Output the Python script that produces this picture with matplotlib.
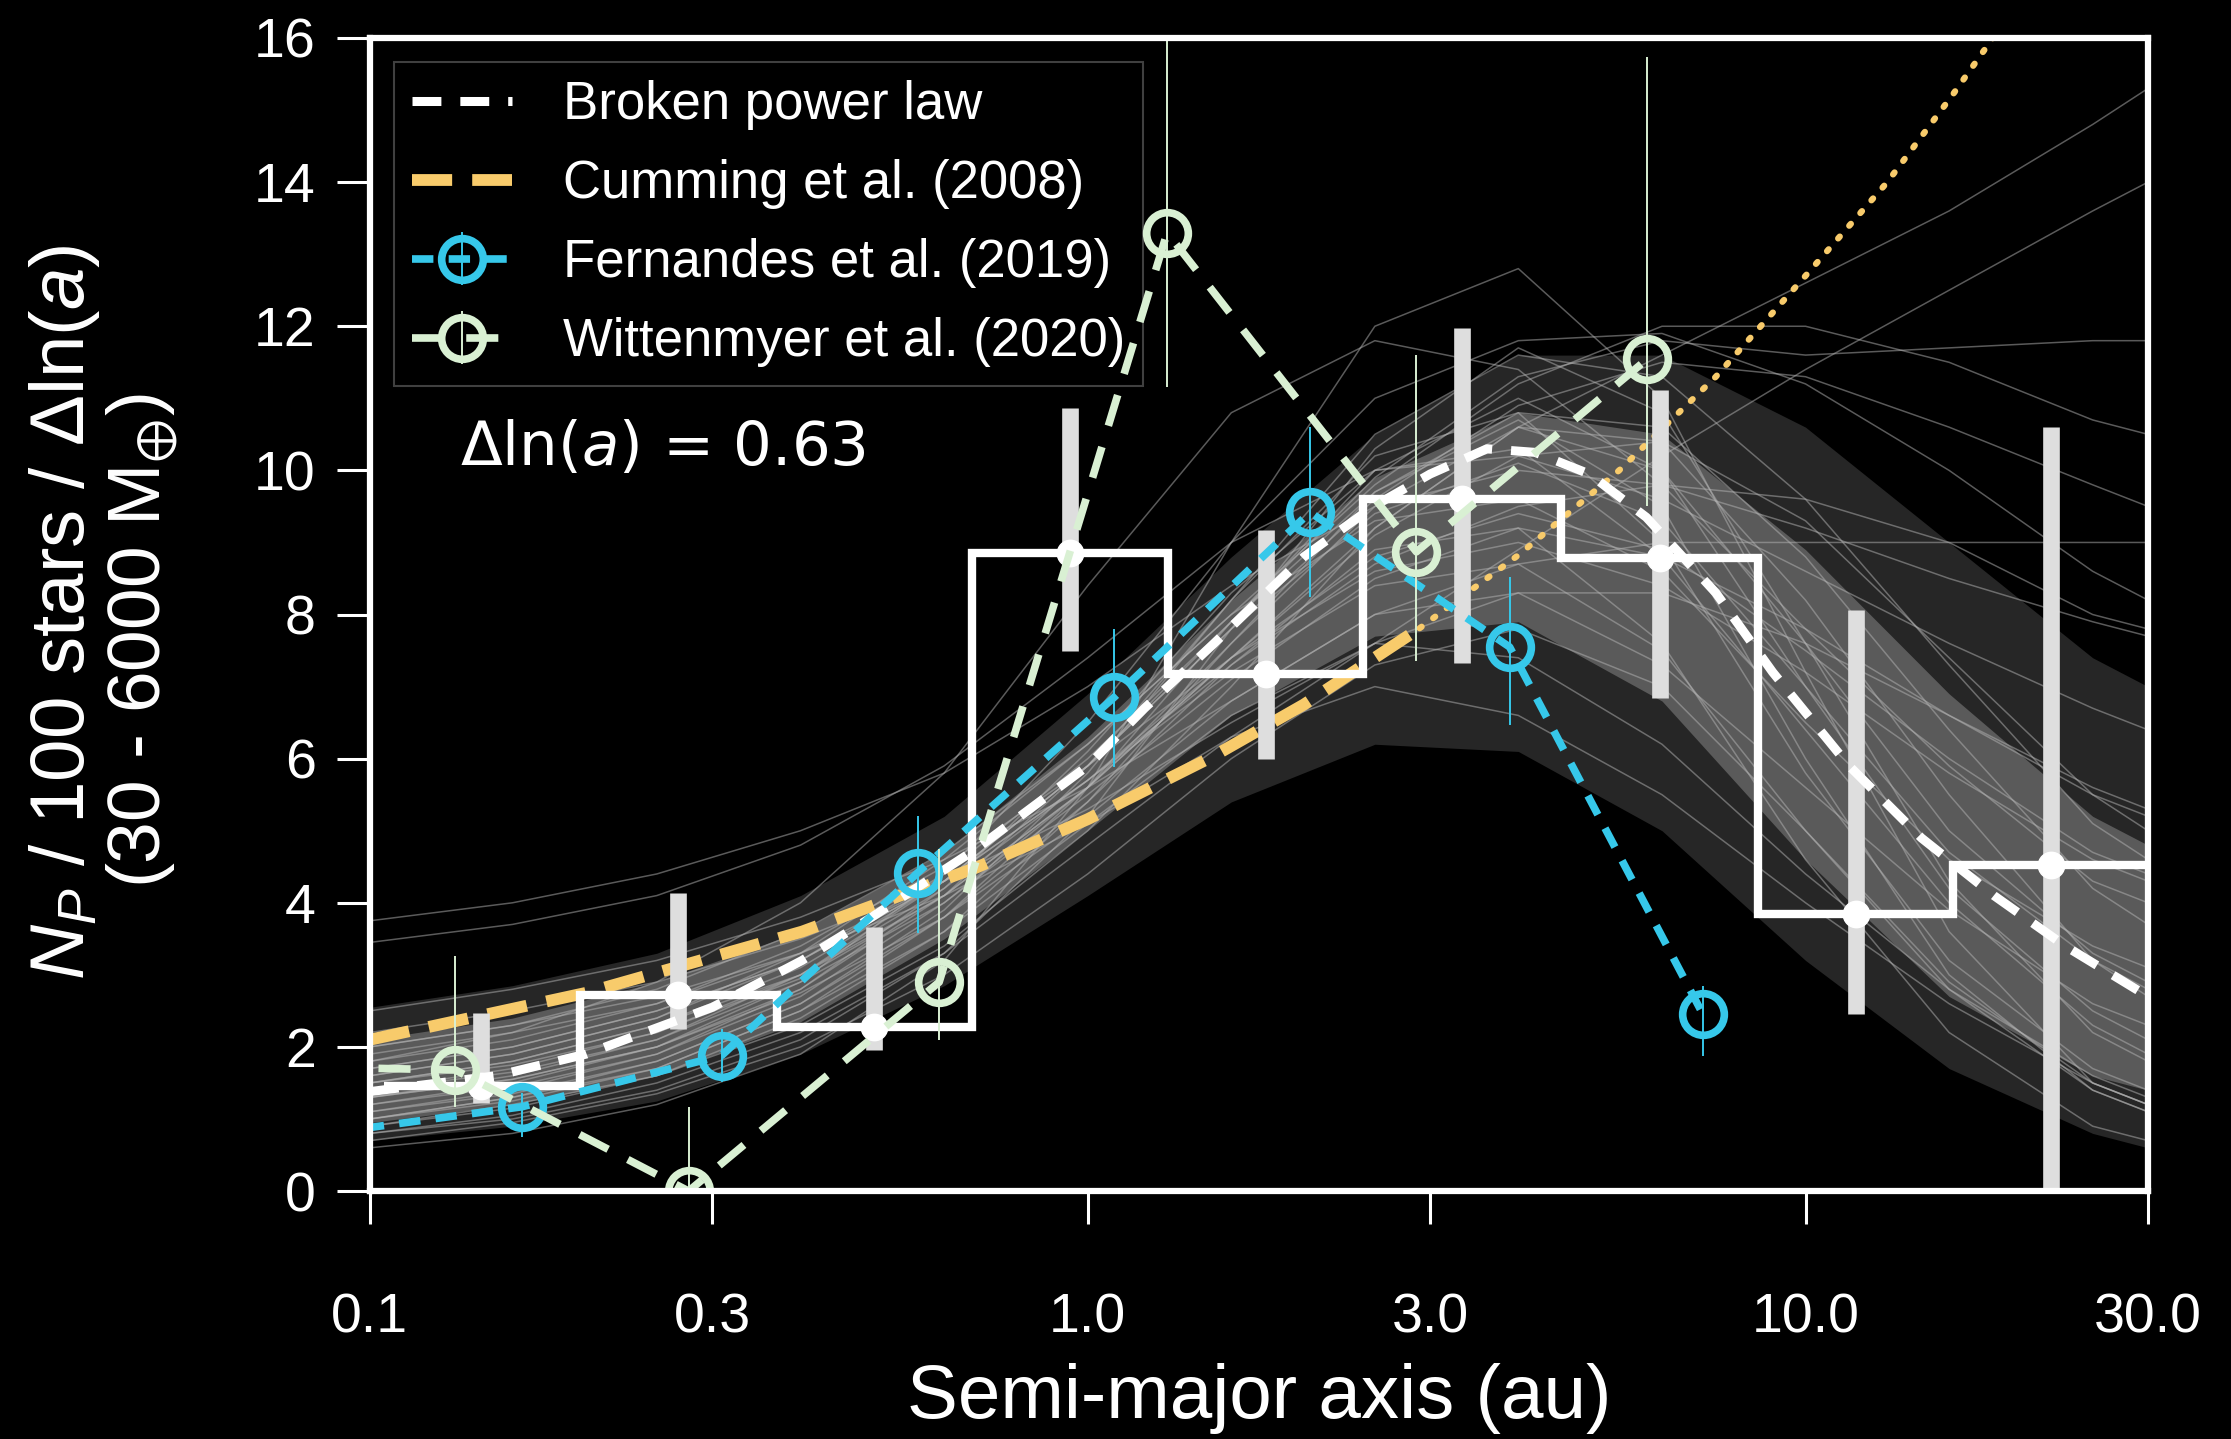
import matplotlib
matplotlib.use("Agg")
import matplotlib.pyplot as plt
from matplotlib.ticker import NullLocator

plt.rcParams["font.family"] = ["Liberation Sans", "DejaVu Sans"]
plt.rcParams["mathtext.fontset"] = "custom"
plt.rcParams["mathtext.rm"] = "Liberation Sans"
plt.rcParams["mathtext.it"] = "Liberation Sans:italic"
plt.rcParams["mathtext.fallback"] = "stixsans"

# histogram (occurrence per bin)
hist_edges = [0.1046, 0.1965, 0.3687, 0.6892, 1.293, 2.417, 4.558, 8.595, 16.06, 30.0]
hist_centers = [0.143, 0.269, 0.504, 0.944, 1.77, 3.32, 6.26, 11.75, 22.0]
hist_n = [1.46, 2.72, 2.28, 8.85, 7.17, 9.6, 8.78, 3.85, 4.52]
hist_lo = [1.22, 2.25, 1.96, 7.49, 6.0, 7.33, 6.84, 2.45, 0.0]
hist_hi = [2.47, 4.13, 3.67, 10.86, 9.17, 11.98, 11.12, 8.06, 10.6]

# broken power law (best fit)
bpl_a = [0.1, 0.15, 0.2, 0.3, 0.4, 0.5, 0.7, 1.0, 1.2, 1.5, 2.0, 2.5, 3.0, 3.6,
         4.2, 5.0, 6.0, 7.5, 9.0, 11.5, 14.5, 18.3, 23.0, 30.0]
bpl_n = [1.38, 1.6, 1.9, 2.55, 3.2, 3.8, 4.75, 5.9, 6.7, 7.6, 8.8, 9.5, 9.95, 10.3,
         10.25, 9.95, 9.35, 8.3, 7.2, 5.9, 4.9, 4.1, 3.4, 2.7]

# Cumming et al. (2008)
cum_a = [0.1, 0.2, 0.4, 0.7, 1.0, 1.5, 2.0, 2.9]
cum_n = [2.1, 2.75, 3.6, 4.49, 5.16, 6.04, 6.75, 7.81]
cum_ext_a = [2.9, 4.0, 5.5, 7.5, 10.0, 13.0, 16.0, 19.0]
cum_ext_n = [7.81, 8.84, 10.0, 11.3, 12.7, 14.0, 15.2, 16.25]

# Fernandes et al. (2019)
fern_a = [0.087, 0.163, 0.309, 0.580, 1.088, 2.04, 3.87, 7.19]
fern_n = [0.80, 1.17, 1.88, 4.42, 6.85, 9.42, 7.55, 2.46]
fern_lo = [0.6, 0.75, 1.52, 3.58, 5.89, 8.25, 6.47, 1.88]
fern_hi = [1.0, 1.36, 2.25, 5.2, 7.8, 10.6, 8.52, 2.84]

# Wittenmyer et al. (2020)
witt_a = [0.061, 0.1315, 0.278, 0.621, 1.29, 2.87, 6.01]
witt_n = [1.75, 1.68, 0.0, 2.9, 13.3, 8.87, 11.54]
witt_lo = [1.2, 1.16, 0.0, 2.1, 11.16, 7.35, 9.5]
witt_hi = [2.4, 3.26, 1.16, 4.74, 17.5, 11.6, 15.74]

# posterior draws of the broken power law, read at fixed semi-major axes
knots = [0.1, 0.158, 0.251, 0.398, 0.631, 1.0, 1.585, 2.512, 3.98, 6.31, 10.0, 15.85, 25.12, 30.0]
band_lo = [0.7, 0.9, 1.25, 1.9, 2.85, 4.1, 5.4, 6.2, 6.1, 5.0, 3.2, 1.7, 0.8, 0.6]
band_hi = [2.55, 2.85, 3.3, 4.1, 5.2, 6.9, 8.8, 10.5, 11.6, 11.6, 10.6, 9.0, 7.4, 7.0]
core_lo = [0.95, 1.2, 1.6, 2.35, 3.5, 5.0, 6.6, 7.7, 7.9, 6.8, 4.6, 2.7, 1.6, 1.4]
core_hi = [2.1, 2.4, 2.9, 3.6, 4.7, 6.3, 8.2, 9.9, 10.8, 10.5, 8.9, 6.9, 5.2, 4.8]
sample_curves = [
    [1.4, 1.65, 2.1, 3.0, 4.3, 5.9, 7.8, 9.4, 10.1, 9.3, 7.0, 4.7, 3.2, 2.8],
    [1.2, 1.45, 1.9, 2.7, 4.0, 5.6, 7.6, 9.5, 10.6, 10.0, 7.6, 5.0, 3.3, 2.9],
    [1.6, 1.9, 2.4, 3.3, 4.6, 6.2, 8.0, 9.3, 9.6, 8.6, 6.5, 4.6, 3.4, 3.1],
    [1.0, 1.25, 1.7, 2.5, 3.8, 5.6, 7.9, 10.0, 11.0, 10.0, 7.0, 4.2, 2.5, 2.1],
    [1.8, 2.1, 2.6, 3.4, 4.5, 5.9, 7.4, 8.6, 9.0, 8.4, 7.2, 5.8, 4.6, 4.3],
    [2.2, 2.5, 2.9, 3.5, 4.3, 5.3, 6.5, 7.6, 8.3, 8.3, 7.6, 6.6, 5.6, 5.3],
    [0.9, 1.15, 1.6, 2.4, 3.6, 5.4, 7.6, 9.7, 10.7, 9.5, 6.0, 3.0, 1.4, 1.1],
    [1.5, 1.75, 2.2, 2.95, 4.1, 5.6, 7.4, 9.1, 10.2, 10.4, 9.3, 7.4, 5.5, 5.0],
    [1.3, 1.55, 2.0, 2.8, 4.1, 5.9, 8.2, 10.2, 10.8, 9.0, 5.8, 3.2, 1.7, 1.4],
    [2.5, 2.8, 3.2, 3.8, 4.6, 5.6, 6.8, 8.0, 8.7, 9.0, 9.0, 9.0, 9.0, 9.0],
    [3.45, 3.7, 4.1, 4.8, 5.9, 7.4, 9.0, 10.0, 10.2, 9.6, 8.6, 7.6, 6.7, 6.4],
    [3.75, 4.0, 4.4, 5.0, 5.8, 7.0, 8.4, 9.5, 10.0, 9.8, 9.2, 8.5, 7.9, 7.7],
    [0.8, 1.0, 1.4, 2.1, 3.3, 5.2, 7.8, 10.3, 11.7, 10.8, 7.6, 4.3, 2.2, 1.8],
    [1.1, 1.35, 1.8, 2.6, 3.9, 5.8, 8.2, 10.5, 11.6, 11.3, 9.6, 7.3, 5.1, 4.6],
    [1.7, 2.0, 2.5, 3.2, 4.3, 5.7, 7.2, 8.4, 8.7, 7.5, 5.0, 2.8, 1.4, 1.1],
    [1.4, 1.7, 2.2, 3.0, 4.2, 5.7, 7.4, 8.8, 9.4, 8.9, 7.5, 6.0, 4.7, 4.4],
    [1.2, 1.5, 2.0, 2.9, 4.4, 6.5, 9.0, 11.0, 11.8, 11.9, 11.2, 10.0, 8.6, 8.2],
    [1.9, 2.2, 2.6, 3.3, 4.3, 5.7, 7.3, 8.7, 9.5, 9.8, 9.6, 9.0, 8.0, 7.8],
    [1.0, 1.3, 1.8, 2.6, 3.8, 5.4, 7.3, 8.9, 9.2, 7.6, 4.6, 2.2, 0.9, 0.7],
    [1.5, 1.8, 2.3, 3.1, 4.3, 5.9, 7.8, 9.6, 10.9, 11.5, 11.3, 10.6, 9.8, 9.5],
    [0.9, 1.2, 1.6, 2.3, 3.4, 5.0, 7.0, 9.2, 10.6, 10.4, 8.2, 5.5, 3.2, 2.7],
    [0.6, 0.8, 1.2, 1.9, 3.2, 5.6, 9.0, 12.0, 12.8, 11.0, 7.2, 3.6, 1.5, 1.2],
    [2.0, 2.3, 2.7, 3.3, 4.1, 5.1, 6.3, 7.6, 8.9, 10.2, 11.4, 12.5, 13.6, 14.0],
    [1.6, 1.9, 2.4, 3.2, 4.4, 6.0, 7.9, 9.7, 10.8, 10.6, 8.8, 6.4, 4.2, 3.7],
    [1.3, 1.55, 2.0, 2.75, 3.8, 5.2, 6.8, 8.0, 8.3, 7.3, 5.6, 3.9, 2.6, 2.3],
    [2.0, 2.3, 2.8, 3.6, 4.7, 6.2, 8.0, 9.8, 11.2, 12.0, 12.0, 11.5, 10.7, 10.5],
    [1.7, 2.0, 2.5, 3.2, 4.3, 5.9, 7.9, 9.9, 11.3, 11.8, 11.6, 11.7, 11.8, 11.8],
    [0.7, 0.95, 1.35, 2.0, 3.0, 4.4, 6.0, 7.3, 7.8, 7.0, 5.0, 2.9, 1.5, 1.2],
    [1.5, 1.8, 2.3, 3.0, 4.1, 5.6, 7.4, 9.2, 10.6, 11.6, 12.6, 13.6, 14.8, 15.3],
    [1.8, 2.2, 2.9, 4.0, 5.8, 8.4, 10.8, 11.8, 11.4, 9.8, 7.8, 5.9, 4.3, 4.0],
    [1.1, 1.4, 1.9, 2.8, 4.2, 6.1, 8.3, 10.0, 10.3, 8.8, 6.4, 4.0, 2.3, 1.9],
    [1.3, 1.6, 2.1, 2.9, 4.0, 5.5, 7.1, 8.5, 9.2, 8.8, 7.8, 6.6, 5.5, 5.2],
    [0.8, 1.05, 1.5, 2.2, 3.3, 4.8, 6.3, 7.0, 6.6, 5.5, 4.0, 2.6, 1.5, 1.2],
    [1.0, 1.3, 1.7, 2.5, 3.6, 5.1, 6.6, 7.6, 7.4, 6.2, 4.4, 2.8, 1.6, 1.3],
]

yellow = "#F8CB6B"
cyan = "#36C8EA"
green = "#D9F0D3"

fig = plt.figure(figsize=(22.31, 14.39), dpi=100, facecolor="black")
ax = fig.add_axes([0.1658, 0.1723, 0.797, 0.8013], facecolor="black")
ax.set_xscale("log")

# posterior cloud
ax.fill_between(knots, band_lo, band_hi, color="#262626", lw=0, zorder=1)
ax.fill_between(knots, core_lo, core_hi, color="#5a5a5a", lw=0, zorder=1.05)
for curve in sample_curves:
    ax.plot(knots, curve, color="#b4b4b4", lw=1.1, alpha=0.5, zorder=1.1)

# Cumming power law, dotted extrapolation beyond the fitted range
ax.plot(cum_ext_a, cum_ext_n, color=yellow, lw=4.5, ls=(0, (0.4, 2.3)),
        dash_capstyle="round", zorder=2)
cum_line, = ax.plot(cum_a, cum_n, color=yellow, lw=8.5, ls=(0, (3.4, 1.7)),
                    dash_capstyle="butt", zorder=2.2)

# histogram and binned occurrence
ax.stairs(hist_n, hist_edges, baseline=None, color="white", lw=6, zorder=3)
ax.errorbar(hist_centers, hist_n,
            yerr=[[n - lo for n, lo in zip(hist_n, hist_lo)],
                  [hi - n for n, hi in zip(hist_n, hist_hi)]],
            fmt="o", ms=19, mfc="white", mec="white", ecolor="#dedede",
            elinewidth=12, capsize=0, zorder=3.2)

bpl_line, = ax.plot(bpl_a, bpl_n, color="white", lw=6.5, ls=(0, (3.2, 2.1)),
                    dash_capstyle="butt", zorder=3.5)

fern = ax.errorbar(fern_a, fern_n,
                   yerr=[[n - lo for n, lo in zip(fern_n, fern_lo)],
                         [hi - n for n, hi in zip(fern_n, fern_hi)]],
                   fmt="o", color=cyan, mfc="none", mec=cyan, ms=30, mew=5.5,
                   linestyle=(0, (2.8, 2.0)), lw=5.5, ecolor=cyan,
                   elinewidth=1.4, capsize=0, zorder=4)

witt = ax.errorbar(witt_a, witt_n,
                   yerr=[[n - lo for n, lo in zip(witt_n, witt_lo)],
                         [hi - n for n, hi in zip(witt_n, witt_hi)]],
                   fmt="o", color=green, mfc="none", mec=green, ms=30, mew=5.5,
                   linestyle=(0, (4.2, 2.9)), lw=5.5, ecolor=green,
                   elinewidth=1.4, capsize=0, zorder=4.2)

ax.set_xlim(0.1, 30)
ax.set_ylim(0, 16)
ax.set_xticks([0.1, 0.3, 1, 3, 10, 30])
ax.set_xticklabels(["0.1", "0.3", "1.0", "3.0", "10.0", "30.0"])
ax.xaxis.set_minor_locator(NullLocator())
ax.set_yticks(range(0, 17, 2))
ax.tick_params(direction="out", length=24, width=2.2, colors="white", labelsize=40)
ax.tick_params(axis="x", pad=49)
ax.tick_params(axis="y", pad=15)
for sp in ax.spines.values():
    sp.set_color("white")
    sp.set_linewidth(4.5)
    sp.set_zorder(5)

leg = ax.legend([bpl_line, cum_line, fern, witt],
                ["Broken power law", "Cumming et al. (2008)",
                 "Fernandes et al. (2019)", "Wittenmyer et al. (2020)"],
                loc="upper left", fontsize=38, frameon=True, fancybox=False,
                edgecolor="#404040", facecolor="black", framealpha=1,
                labelcolor="white", handlelength=1.9, handletextpad=0.95,
                borderpad=0.35, labelspacing=0.55, borderaxespad=0.45,
                numpoints=1)
leg.get_frame().set_linewidth(1.5)
leg.set_zorder(2.5)

ax.text(0.0505, 0.644, "Δln($a$) = 0.63", transform=ax.transAxes,
        fontsize=44, color="white", ha="left", va="center",
        family="DejaVu Sans", math_fontfamily="dejavusans")

fig.text(0.5644, 0.028, "Semi-major axis (au)", fontsize=55, color="white",
         ha="center", va="center")
fig.text(0.0287, 0.5747, "$N_P$ / 100 stars / Δln($a$)", fontsize=55,
         color="white", rotation=90, ha="center", va="center")
fig.text(0.0636, 0.555, "(30 - 6000 M$_{\\oplus}$)", fontsize=54,
         color="white", rotation=90, ha="center", va="center")

fig.savefig("out.png", dpi=100, facecolor="black")
